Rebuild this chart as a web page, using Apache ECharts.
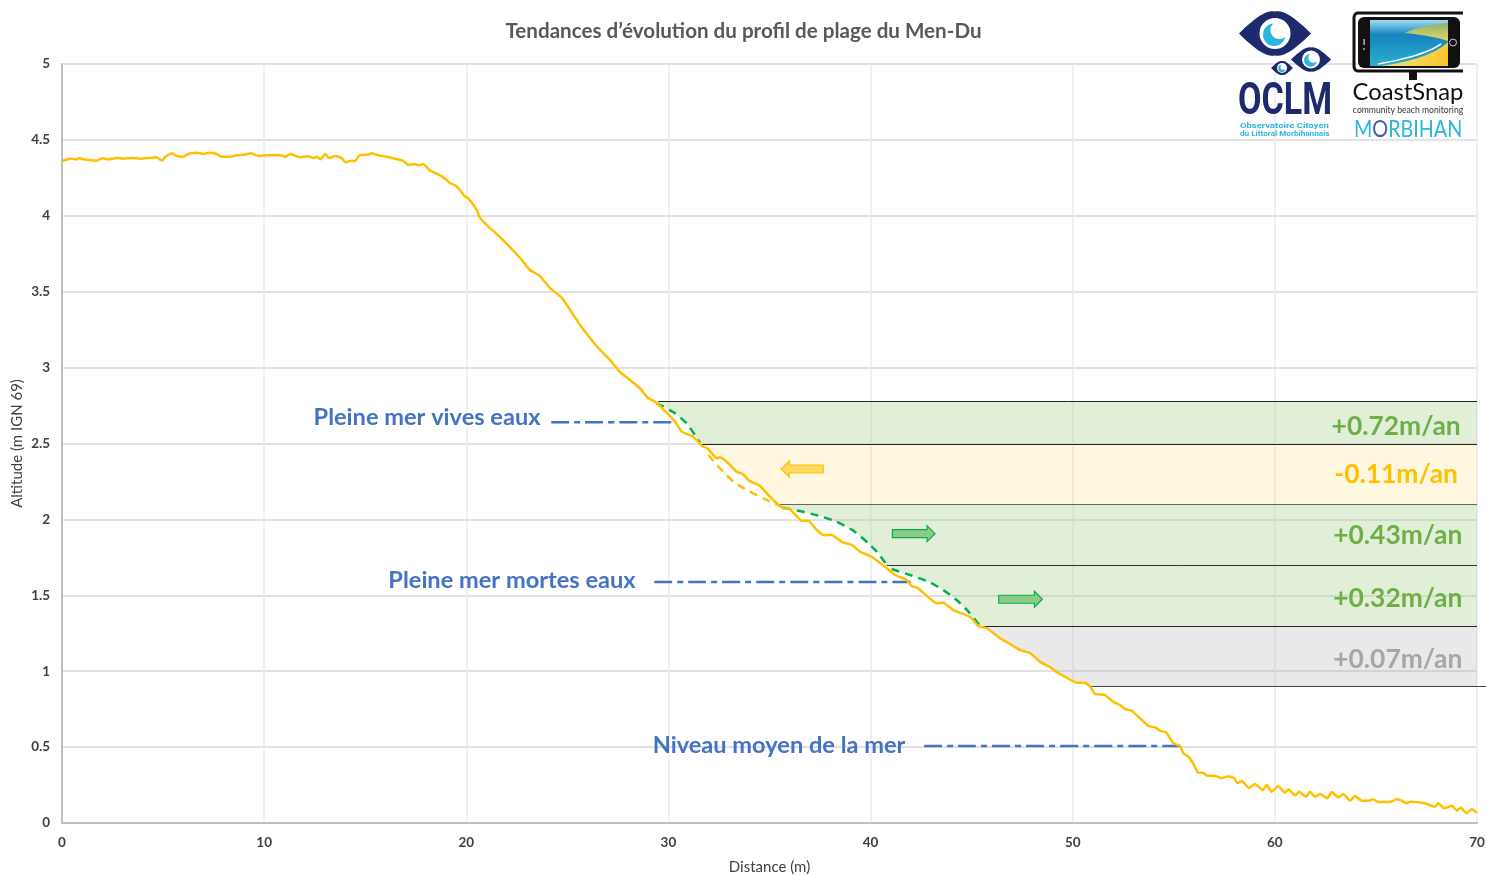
<!DOCTYPE html>
<html><head><meta charset="utf-8">
<style>html,body{margin:0;padding:0;background:#fff}#c{width:1486px;height:875px}</style>
<script src="https://cdn.jsdelivr.net/npm/echarts@6/dist/echarts.min.js"></script>
</head><body><div id="c"></div>
<script>
const chartTitle = "Tendances d’évolution du profil de plage du Men-Du";
const xAxisName = "Distance (m)";
const yAxisName = "Altitude (m IGN 69)";
// beach profile: [distance m, altitude m]
const profile = [[0,4.361],[0.43,4.376],[0.73,4.372],[0.84,4.381],[1.04,4.372],[1.72,4.363],[2.01,4.379],[2.28,4.372],[2.77,4.383],[3.02,4.376],[3.46,4.381],[3.86,4.376],[4.68,4.385],[4.95,4.363],[5.11,4.389],[5.44,4.412],[5.67,4.394],[6.00,4.389],[6.25,4.407],[6.66,4.416],[6.99,4.407],[7.32,4.416],[7.65,4.407],[7.90,4.389],[8.31,4.389],[8.64,4.399],[9.05,4.403],[9.33,4.412],[9.71,4.394],[10.13,4.399],[10.78,4.401],[11.03,4.389],[11.31,4.407],[11.77,4.385],[12.18,4.392],[12.43,4.381],[12.60,4.389],[12.80,4.372],[13.01,4.407],[13.22,4.381],[13.51,4.394],[13.84,4.381],[14.01,4.352],[14.25,4.361],[14.49,4.361],[14.74,4.401],[15.15,4.403],[15.32,4.412],[15.73,4.396],[16.06,4.389],[16.39,4.379],[16.88,4.363],[17.13,4.335],[17.46,4.341],[17.63,4.333],[17.87,4.341],[18.21,4.297],[18.62,4.273],[19.03,4.236],[19.16,4.218],[19.44,4.201],[19.69,4.170],[19.94,4.126],[20.10,4.115],[20.52,4.038],[20.68,3.986],[21.02,3.939],[21.67,3.860],[22.16,3.794],[22.66,3.722],[23.15,3.643],[23.65,3.603],[24.14,3.524],[24.74,3.458],[25.23,3.360],[25.63,3.281],[26.12,3.195],[26.62,3.116],[27.11,3.050],[27.60,2.971],[28.10,2.918],[28.59,2.864],[29.00,2.798],[29.34,2.775],[29.75,2.725],[30.33,2.644],[30.66,2.578],[31.23,2.545],[31.65,2.486],[31.97,2.462],[32.39,2.403],[32.55,2.409],[32.88,2.380],[33.38,2.314],[33.67,2.299],[34.00,2.255],[34.53,2.220],[34.94,2.161],[35.36,2.106],[35.68,2.073],[36.01,2.069],[36.59,1.991],[36.92,1.991],[37.34,1.930],[37.70,1.895],[38.03,1.899],[38.65,1.847],[39.07,1.833],[39.48,1.787],[40.06,1.754],[40.71,1.688],[41.21,1.634],[41.79,1.601],[42.03,1.561],[42.28,1.553],[42.86,1.487],[43.27,1.447],[43.60,1.451],[44.09,1.403],[44.92,1.359],[45.33,1.298],[45.75,1.283],[46.40,1.217],[46.90,1.179],[47.39,1.140],[47.89,1.120],[48.38,1.063],[48.88,1.026],[49.21,0.993],[49.53,0.970],[50.20,0.924],[50.61,0.924],[50.86,0.898],[51.10,0.850],[51.60,0.843],[52.01,0.799],[52.34,0.777],[52.59,0.751],[52.92,0.740],[53.74,0.639],[54.07,0.630],[54.32,0.608],[54.62,0.597],[54.98,0.525],[55.31,0.507],[55.47,0.459],[55.72,0.437],[55.97,0.389],[56.21,0.331],[56.46,0.331],[56.63,0.312],[57.04,0.310],[57.37,0.296],[57.70,0.308],[57.98,0.296],[58.16,0.262],[58.36,0.279],[58.72,0.231],[59.02,0.257],[59.40,0.217],[59.60,0.252],[59.84,0.206],[60.17,0.244],[60.50,0.200],[60.67,0.222],[61.00,0.182],[61.21,0.206],[61.53,0.173],[61.74,0.206],[61.99,0.173],[62.24,0.191],[62.60,0.163],[62.81,0.204],[63.14,0.169],[63.39,0.191],[63.72,0.147],[63.97,0.178],[64.30,0.147],[64.62,0.147],[64.87,0.156],[65.12,0.138],[65.70,0.138],[66.03,0.156],[66.27,0.147],[66.49,0.130],[66.69,0.140],[67.43,0.130],[67.92,0.107],[68.09,0.130],[68.37,0.097],[68.75,0.114],[69.00,0.081],[69.19,0.101],[69.49,0.064],[69.74,0.092],[69.99,0.068]];
// dashed trend curves
const trendGreen1 = [[29.42,2.765],[30.33,2.699],[30.90,2.633],[31.31,2.556],[31.56,2.505]];
const trendYellow = [[31.97,2.424],[32.55,2.337],[33.21,2.248],[33.87,2.194],[34.69,2.139],[35.52,2.088]];
const trendGreen2 = [[35.68,2.077],[36.51,2.055],[37.50,2.022],[38.32,1.985],[39.15,1.926],[39.89,1.843],[40.38,1.777],[40.80,1.700]];
const trendGreen3 = [[41.04,1.673],[41.95,1.634],[42.86,1.590],[43.60,1.535],[44.26,1.469],[44.84,1.392],[45.38,1.304]];
// tide levels: [from, to, altitude]
const tideLevels = [[24.2,30.2,2.64],[29.3,42.05,1.587],[42.65,55.4,0.507]];
const tideNames = ["Pleine mer vives eaux","Pleine mer mortes eaux","Niveau moyen de la mer"];
const tideNameAnchors = [[18.06,2.675],[22.26,1.601],[35.47,0.514]];
// trend bands
const bandLevels = [2.78,2.5,2.1,1.7,1.3,0.9];
const bandRates = ["+0.72m/an","-0.11m/an","+0.43m/an","+0.32m/an","+0.07m/an"];
const bandRateAnchors = [[66,2.612],[66,2.299],[66.08,1.891],[66.08,1.48],[66.08,1.075]];
// arrows: [from, to, altitude]
const arrows = [[37.66,35.58,2.332],[41.08,43.19,1.906],[46.34,48.50,1.474]];

const green='#00B050', yellow='#FFC000';
const bandFills=['rgba(169,209,142,.35)','rgba(255,192,0,.12)','rgba(169,209,142,.35)','rgba(169,209,142,.35)','rgba(166,166,166,.25)'];
const rateColors=['#70AD47','#FFC000','#70AD47','#70AD47','#A6A6A6'];
const arrowFills=['#FFD966','#8CCB85','#8CCB85'], arrowStrokes=[yellow,green,green];
const lbl='Lato, "Noto Sans", sans-serif';
const onCurve=(hi,lo)=>profile.filter(p=>p[1]<=hi&&p[1]>=lo);
const bandEdges=[
  [[29.5,2.78],...trendGreen1,[31.6,2.5]],
  [[31.6,2.5],...onCurve(2.5,2.1),[35.45,2.1]],
  [[35.45,2.1],...trendGreen2],
  [[40.8,1.7],...trendGreen3,[45.35,1.3]],
  [[45.35,1.3],...onCurve(1.3,0.9),[50.85,0.9]]
];
const bandLineRight=[70,70,70,70,70,70.45], bandLineColors=['#222','#222','#666','#333','#222','#444'];
const lineStarts=[29.5,31.6,35.45,40.8,45.35,50.85];

const chart=echarts.init(document.getElementById('c'),null,{renderer:'canvas'});
const line=(data,color,type,z)=>({type:'line',data,symbol:'none',z,smooth:0.15,silent:true,lineStyle:{color,width:2.5,type},animation:false});
const series=[
 {type:'custom',z:1,silent:true,data:bandRates.map((r,i)=>[70,bandLevels[i]]),renderItem(p,api){
   const i=p.dataIndex,top=bandLevels[i],bot=bandLevels[i+1];
   const pts=[...bandEdges[i],[70,bot],[70,top]].map(q=>api.coord(q));
   return {type:'polygon',shape:{points:pts},style:{fill:bandFills[i],stroke:null}};
 }},
 {type:'custom',z:2,silent:true,clip:false,data:bandLevels.map(v=>[70,v]),renderItem(p,api){
   const i=p.dataIndex,a=api.coord([lineStarts[i],bandLevels[i]]),b=api.coord([bandLineRight[i],bandLevels[i]]);
   return {type:'line',shape:{x1:a[0],y1:Math.round(a[1])+.5,x2:b[0],y2:Math.round(a[1])+.5},style:{stroke:bandLineColors[i],lineWidth:1}};
 }},
 ...tideLevels.map(t=>line([[t[0],t[2]],[t[1],t[2]]],'#4472C4',[18,5,6,5],3)),
 line(trendGreen1,green,[8,6],4),line(trendYellow,yellow,[8,6],4),line(trendGreen2,green,[8,6],4),line(trendGreen3,green,[8,6],4),
 line(profile,yellow,'solid',5),
 {type:'custom',z:6,silent:true,data:arrows.map(a=>[a[1],a[2]]),renderItem(p,api){
   const a=arrows[p.dataIndex],s=api.coord([a[0],a[2]]),e=api.coord([a[1],a[2]]),d=Math.sign(e[0]-s[0]),h=e[0]-d*8;
   return {type:'polygon',shape:{points:[[s[0],s[1]-4],[h,s[1]-4],[h,s[1]-8],[e[0],s[1]],[h,s[1]+8],[h,s[1]+4],[s[0],s[1]+4]]},style:{fill:arrowFills[p.dataIndex],stroke:arrowStrokes[p.dataIndex],lineWidth:1.2}};
 }},
 {type:'custom',z:7,silent:true,data:tideNames.map((n,i)=>tideNameAnchors[i]),renderItem(p,api){
   const c=api.coord(tideNameAnchors[p.dataIndex]);
   return {type:'text',style:{text:tideNames[p.dataIndex],x:c[0],y:c[1],align:'center',verticalAlign:'middle',fill:'#4472C4',font:'bold 23.6px '+lbl}};
 }},
 {type:'custom',z:7,silent:true,data:bandRates.map((n,i)=>bandRateAnchors[i]),renderItem(p,api){
   const c=api.coord(bandRateAnchors[p.dataIndex]);
   return {type:'text',style:{text:bandRates[p.dataIndex],x:c[0],y:c[1],align:'center',verticalAlign:'middle',fill:rateColors[p.dataIndex],font:'bold 26.4px '+lbl}};
 }}
];
const G=(o)=>Object.assign({z:100,silent:true},o);
const navy='#1F2A6E', cyan='#2BB6DC';
// quadratic curve sampler for logo outlines
const Q=(a,c,b)=>Array.from({length:15},(_,k)=>{const t=k/14,u=1-t;return [u*u*a[0]+2*u*t*c[0]+t*t*b[0],u*u*a[1]+2*u*t*c[1]+t*t*b[1]];});
const eye=(cx,cy,hw,hh,r)=>[
 G({type:'polygon',shape:{points:[...Q([cx-hw,cy],[cx-hw*.3,cy-hh*1.15],[cx,cy-hh]),...Q([cx,cy-hh],[cx+hw*.3,cy-hh*1.15],[cx+hw,cy]),...Q([cx+hw,cy],[cx+hw*.3,cy+hh*1.15],[cx,cy+hh]),...Q([cx,cy+hh],[cx-hw*.3,cy+hh*1.15],[cx-hw,cy])]},style:{fill:navy}}),
 G({type:'circle',shape:{cx,cy,r},style:{fill:'#fff'}}),
 G({type:'circle',shape:{cx:cx-r*.05,cy:cy+r*.08,r:r*.72},style:{fill:cyan}}),
 G({type:'circle',shape:{cx:cx+r*.28,cy:cy-r*.22,r:r*.58},style:{fill:'#fff'}})
];
const graphics=[
 G({type:'text',style:{text:chartTitle,x:743.5,y:31,align:'center',verticalAlign:'middle',fill:'#595959',font:'bold 20.6px '+lbl}}),
 ...eye(1275,33.5,36,22,15.5),...eye(1311,59.5,20,12,9),...eye(1282,68,11,7,5),
 G({type:'text',x:1238,y:103,scaleX:.775,style:{text:'OCLM',x:0,y:0,align:'left',verticalAlign:'middle',fill:navy,font:'bold 44px Roboto, sans-serif'}}),
 G({type:'text',x:1240,y:125.5,scaleX:1.18,style:{text:'Observatoire Citoyen',x:0,y:0,align:'left',verticalAlign:'middle',fill:cyan,font:'bold 8px Roboto, sans-serif'}}),
 G({type:'text',x:1240,y:133.5,scaleX:1.02,style:{text:'du Littoral Morbihannais',x:0,y:0,align:'left',verticalAlign:'middle',fill:cyan,font:'bold 8px Roboto, sans-serif'}}),
 // phone
 G({type:'polyline',shape:{points:[[1463,13],...Q([1359,13],[1354,13],[1354,18]),...Q([1354,66],[1354,71],[1359,71]),[1463,71]]},style:{fill:null,stroke:'#111',lineWidth:3}}),
 G({type:'rect',shape:{x:1358,y:17,width:102,height:51,r:6},style:{fill:'#111'}}),
 G({type:'rect',shape:{x:1409,y:71,width:8,height:9},style:{fill:'#111'}}),
 G({type:'rect',shape:{x:1370,y:20,width:78,height:46},style:{fill:new echarts.graphic.LinearGradient(0,0,0,1,[{offset:0,color:'#A6D9EC'},{offset:.14,color:'#62B8DE'},{offset:.32,color:'#1583BE'},{offset:1,color:'#2EAFD0'}])}}),
 G({type:'polygon',shape:{points:[...Q([1405,33],[1418,26],[1448,23]),[1448,41],...Q([1440,38.5],[1422,34.5],[1405,33])]},style:{fill:new echarts.graphic.LinearGradient(0,0,0,1,[{offset:0,color:'#8DB46A'},{offset:1,color:'#E6D668'}])}}),
 G({type:'polygon',shape:{points:[...Q([1381,66],[1430,59],[1448,42]),[1448,66]]},style:{fill:new echarts.graphic.LinearGradient(0,0,1,1,[{offset:0,color:'#F9E58A'},{offset:1,color:'#F5C52C'}])}}),
 G({type:'polyline',shape:{points:Q([1378,64],[1424,56],[1441,44])},style:{fill:null,stroke:'#fff',lineWidth:1.5}}),
 G({type:'circle',shape:{cx:1453,cy:42.5,r:3.5},style:{fill:null,stroke:'#ccc',lineWidth:1}}),
 G({type:'rect',shape:{x:1363.5,y:39,width:1.2,height:6},style:{fill:'#ddd'}}),
 G({type:'rect',shape:{x:1363.5,y:48,width:1.2,height:2},style:{fill:'#ddd'}}),
 G({type:'text',style:{text:'CoastSnap',x:1408,y:92.5,align:'center',verticalAlign:'middle',fill:'#111',font:'400 23.8px Lato, sans-serif'}}),
 G({type:'text',style:{text:'community beach monitoring',x:1408,y:110.5,align:'center',verticalAlign:'middle',fill:'#333',font:'400 8.6px Lato, sans-serif'}}),
 G({type:'text',x:1354,y:129,scaleX:.84,style:{x:0,y:0,align:'left',verticalAlign:'middle',text:'{a|M}{b|O}{a|RBIHAN}',rich:{a:{fill:cyan,font:'400 23.5px Lato, sans-serif'},b:{fill:'#4A5AA8',font:'400 23.5px Lato, sans-serif'}}}})
];
chart.setOption({
 animation:false,backgroundColor:'#fff',
 grid:{left:62,right:9,top:64,bottom:52,outerBoundsMode:'none'},
 graphic:{elements:graphics},
 xAxis:{type:'value',min:0,max:70,interval:10,name:xAxisName,nameLocation:'middle',nameGap:37,nameMoveOverlap:false,
  nameTextStyle:{color:'#404040',fontSize:15,fontFamily:lbl},
  axisLine:{show:true,onZero:false,lineStyle:{color:'#BFBFBF',width:2}},axisTick:{show:false},
  axisLabel:{color:'#404040',fontSize:13.5,fontWeight:'bold',fontFamily:lbl,margin:13},
  splitLine:{show:true,lineStyle:{color:'#EBEBEB',width:1.5}}},
 yAxis:{type:'value',min:0,max:5,interval:0.5,name:yAxisName,nameLocation:'middle',nameGap:37,nameMoveOverlap:false,
  nameTextStyle:{color:'#404040',fontSize:15,fontFamily:lbl},
  axisLine:{show:true,onZero:false,lineStyle:{color:'#BFBFBF',width:2}},axisTick:{show:false},
  axisLabel:{color:'#404040',fontSize:13.5,fontWeight:'bold',fontFamily:lbl,margin:12,formatter:v=>String(v)},
  splitLine:{show:true,lineStyle:{color:'#D9D9D9',width:1.5}}},
 series
});
</script></body></html>
